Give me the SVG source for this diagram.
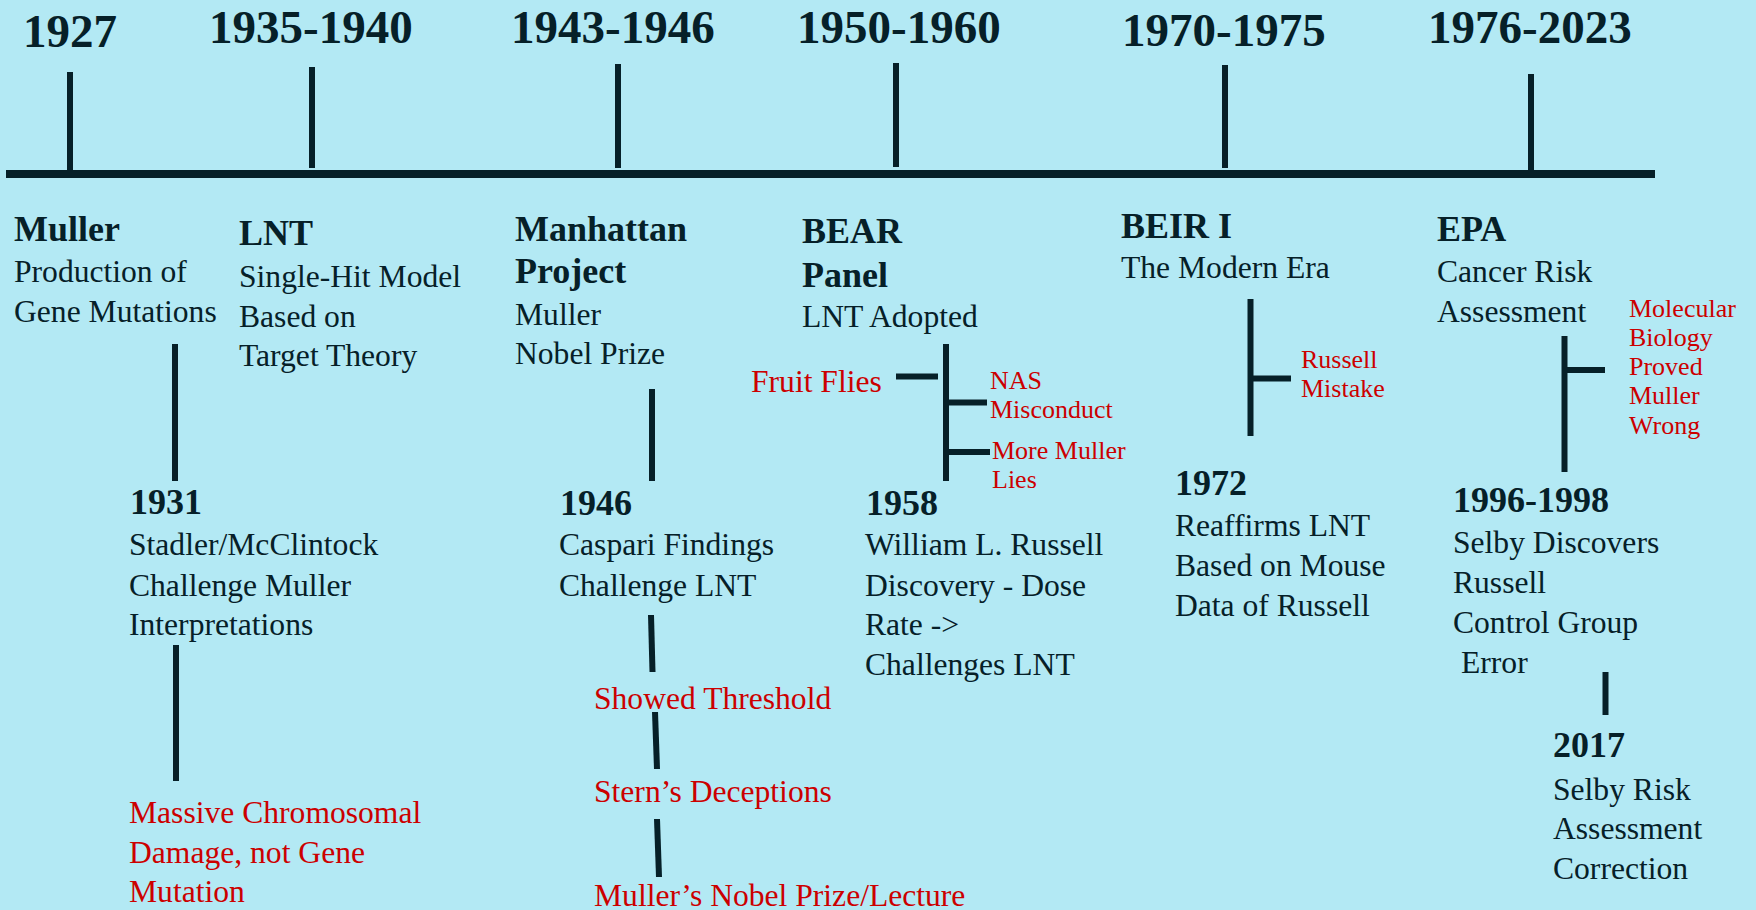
<svg xmlns="http://www.w3.org/2000/svg" width="1756" height="910" viewBox="0 0 1756 910">
<style>
text{font-family:"Liberation Serif","Times New Roman",serif;fill:#062028}
.yr{font-size:47px;font-weight:bold}
.ti{font-size:36px;font-weight:bold}
.b{font-size:31.6px}
.r{font-size:31.6px;fill:#cc0000}
.rs{font-size:26px;fill:#cc0000}
.ln{stroke:#062028;stroke-width:6;fill:none}
</style>
<rect width="1756" height="910" fill="#b3e9f4"/>
<g id="timeline">
<rect x="6" y="170" width="1649" height="8" fill="#062028"/>
</g>
<g id="connectors" class="ln">
<line x1="70" y1="72" x2="70" y2="171"/>
<line x1="312" y1="67" x2="312" y2="168"/>
<line x1="618" y1="64" x2="618" y2="168"/>
<line x1="896" y1="63" x2="896" y2="167"/>
<line x1="1225" y1="65" x2="1225" y2="168"/>
<line x1="1531" y1="74" x2="1531" y2="171"/>
<line x1="175" y1="344" x2="175" y2="481"/>
<line x1="176" y1="645" x2="176" y2="781"/>
<line x1="652" y1="389" x2="652" y2="481"/>
<line x1="651" y1="615" x2="652.5" y2="672"/>
<line x1="655" y1="712" x2="657" y2="769"/>
<line x1="657" y1="819" x2="659" y2="877"/>
<line x1="896" y1="376.5" x2="938" y2="376.5"/>
<line x1="946" y1="344" x2="946" y2="481"/>
<line x1="946" y1="402.5" x2="987" y2="402.5"/>
<line x1="946" y1="452" x2="990" y2="452"/>
<line x1="1250.5" y1="299" x2="1250.5" y2="436"/>
<line x1="1250" y1="378.5" x2="1291" y2="378.5"/>
<line x1="1564.5" y1="336" x2="1564.5" y2="472"/>
<line x1="1565" y1="370" x2="1605" y2="370"/>
<line x1="1605.5" y1="672" x2="1605.5" y2="715"/>
</g>
<g id="y1927"><text class="yr" x="23" y="47">1927</text></g>
<g id="y1935"><text class="yr" x="209" y="43">1935-1940</text></g>
<g id="y1943"><text class="yr" x="511" y="43">1943-1946</text></g>
<g id="y1950"><text class="yr" x="797" y="43">1950-1960</text></g>
<g id="y1970"><text class="yr" x="1122" y="46">1970-1975</text></g>
<g id="y1976"><text class="yr" x="1428" y="43">1976-2023</text></g>
<g id="muller">
<text class="ti" x="14" y="241">Muller</text>
<text class="b" x="14" y="282">Production of</text>
<text class="b" x="14" y="322">Gene Mutations</text>
</g>
<g id="e1931">
<text class="ti" x="130" y="514">1931</text>
<text class="b" x="129" y="555">Stadler/McClintock</text>
<text class="b" x="129" y="596">Challenge Muller</text>
<text class="b" x="129" y="635">Interpretations</text>
</g>
<g id="massive">
<text class="r" x="129" y="823">Massive Chromosomal</text>
<text class="r" x="129" y="863">Damage, not Gene</text>
<text class="r" x="129" y="902">Mutation</text>
</g>
<g id="lnt">
<text class="ti" x="239" y="245">LNT</text>
<text class="b" x="239" y="287">Single-Hit Model</text>
<text class="b" x="239" y="327">Based on</text>
<text class="b" x="239" y="366">Target Theory</text>
</g>
<g id="manhattan">
<text class="ti" x="515" y="241">Manhattan</text>
<text class="ti" x="515" y="283">Project</text>
<text class="b" x="515" y="325">Muller</text>
<text class="b" x="515" y="364">Nobel Prize</text>
</g>
<g id="e1946">
<text class="ti" x="560" y="515">1946</text>
<text class="b" x="559" y="555">Caspari Findings</text>
<text class="b" x="559" y="596">Challenge LNT</text>
</g>
<g id="threshold"><text class="r" x="594" y="709">Showed Threshold</text></g>
<g id="stern"><text class="r" x="594" y="802">Stern’s Deceptions</text></g>
<g id="nobel"><text class="r" x="594" y="906">Muller’s Nobel Prize/Lecture</text></g>
<g id="bear">
<text class="ti" x="802" y="243">BEAR</text>
<text class="ti" x="802" y="287">Panel</text>
<text class="b" x="802" y="327">LNT Adopted</text>
</g>
<g id="fruit"><text class="r" x="751" y="392">Fruit Flies</text></g>
<g id="nas">
<text class="rs" x="990" y="389">NAS</text>
<text class="rs" x="990" y="418">Misconduct</text>
</g>
<g id="lies">
<text class="rs" x="992" y="459">More Muller</text>
<text class="rs" x="992" y="488">Lies</text>
</g>
<g id="e1958">
<text class="ti" x="866" y="515">1958</text>
<text class="b" x="865" y="555">William L. Russell</text>
<text class="b" x="865" y="596">Discovery - Dose</text>
<text class="b" x="865" y="635">Rate -&gt;</text>
<text class="b" x="865" y="675">Challenges LNT</text>
</g>
<g id="beir">
<text class="ti" x="1121" y="238">BEIR I</text>
<text class="b" x="1121" y="278">The Modern Era</text>
</g>
<g id="russell">
<text class="rs" x="1301" y="368">Russell</text>
<text class="rs" x="1301" y="397">Mistake</text>
</g>
<g id="e1972">
<text class="ti" x="1175" y="495">1972</text>
<text class="b" x="1175" y="536">Reaffirms LNT</text>
<text class="b" x="1175" y="576">Based on Mouse</text>
<text class="b" x="1175" y="616">Data of Russell</text>
</g>
<g id="epa">
<text class="ti" x="1437" y="241">EPA</text>
<text class="b" x="1437" y="282">Cancer Risk</text>
<text class="b" x="1437" y="322">Assessment</text>
</g>
<g id="molecular">
<text class="rs" x="1629" y="317">Molecular</text>
<text class="rs" x="1629" y="346">Biology</text>
<text class="rs" x="1629" y="375">Proved</text>
<text class="rs" x="1629" y="404">Muller</text>
<text class="rs" x="1629" y="434">Wrong</text>
</g>
<g id="e1996">
<text class="ti" x="1453" y="512">1996-1998</text>
<text class="b" x="1453" y="553">Selby Discovers</text>
<text class="b" x="1453" y="593">Russell</text>
<text class="b" x="1453" y="633">Control Group</text>
<text class="b" x="1461" y="673">Error</text>
</g>
<g id="e2017">
<text class="ti" x="1553" y="757">2017</text>
<text class="b" x="1553" y="800">Selby Risk</text>
<text class="b" x="1553" y="839">Assessment</text>
<text class="b" x="1553" y="879">Correction</text>
</g>
</svg>
